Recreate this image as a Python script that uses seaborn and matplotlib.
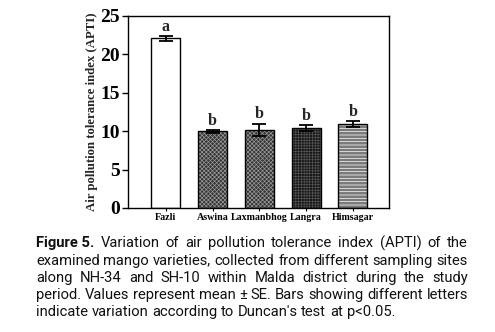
import math
import matplotlib
matplotlib.use("Agg")
import matplotlib.pyplot as plt
from matplotlib.font_manager import FontProperties
from matplotlib.backends.backend_agg import get_hinting_flag
import seaborn as sns
import pandas as pd
import numpy as np

varieties = ["Fazli", "Aswina", "Laxmanbhog", "Langra", "Himsagar"]
apti = [22.1, 10.0, 10.2, 10.4, 10.9]
se = [0.3, 0.2, 0.8, 0.4, 0.4]
letters = ["a", "b", "b", "b", "b"]

caption_lines = [
    ("Figure 5.", "Variation of air pollution tolerance index (APTI) of the"),
    ("", "examined mango varieties, collected from different sampling sites"),
    ("", "along NH-34 and SH-10 within Malda district during the study"),
    ("", "period. Values represent mean \u00b1 SE.  Bars showing different letters"),
    ("", "indicate variation according to Duncan's test at p<0.05."),
]

sns.set_theme(style="white")
plt.rcParams["hatch.linewidth"] = 0.5

df = pd.DataFrame({"variety": varieties, "apti": apti})

fig = plt.figure(figsize=(4.95, 3.32), dpi=100)
ax = fig.add_axes([128/495, 1-208/332, (389-128)/495, (208-16)/332])

sns.barplot(data=df, x="variety", y="apti", ax=ax, width=0.62,
            color="white", edgecolor="black", linewidth=1.0, errorbar=None)

faces = ["white", "#333333", "#333333", "#151515", "#7a7a7a"]
hatches = [None, "xxxxxxxx", "xxxxxxxx", "++++++", "-----"]
hcolors = ["black", "#999999", "#999999", "#555555", "white"]
for p, fc, h, hc in zip(ax.patches, faces, hatches, hcolors):
    p.set_facecolor(fc)
    if h:
        p.set_hatch(h)
        p._hatch_color = matplotlib.colors.to_rgba(hc)

xs = np.arange(len(varieties))
ax.errorbar(xs, apti, yerr=se, fmt="none", ecolor="black", elinewidth=1.3,
            capsize=5, capthick=1.3)
for x, v, e, l in zip(xs, apti, se, letters):
    ax.text(x, v + e + 0.15, l, ha="center", va="bottom",
            family="Liberation Serif", fontweight="bold", fontsize=11.5)

ax.set_xlim(-0.81, 4.77)
ax.set_ylim(0, 25)
ax.set_yticks([0, 5, 10, 15, 20, 25])
ax.set_xlabel("")
ax.set_ylabel("Air pollution tolerance index (APTI)", family="Liberation Serif",
              fontweight="bold", fontsize=9.2, labelpad=1.5)
for lab in ax.get_yticklabels():
    lab.set_family("Liberation Serif"); lab.set_fontweight("bold"); lab.set_fontsize(14)
for lab in ax.get_xticklabels():
    lab.set_family("Liberation Serif"); lab.set_fontweight("bold"); lab.set_fontsize(7.2)
ax.tick_params(axis="y", left=True, length=4, width=1, pad=2, colors="black")
ax.tick_params(axis="x", bottom=True, length=2.5, width=0.8, pad=1, colors="black")
for s in ax.spines.values():
    s.set_visible(True); s.set_color("black"); s.set_linewidth(1.0)

# caption: one text per word, justified, with pixel-consistent baselines
fig.canvas.draw()
renderer = fig.canvas.get_renderer()
Wpx, Hpx = fig.bbox.width, fig.bbox.height
x0, x1 = 36, 468
ys = [247, 265, 282, 299, 316]
fs = 10.6


def baseline_fix(word, weight):
    """Offset so that Agg's pixel rounding puts every word on the same row."""
    prop = FontProperties(family="Roboto", size=fs, weight=weight)
    try:
        font = renderer._prepare_font(prop)
        font.set_text(word, 0, flags=get_hinting_flag())
        d = font.get_descent() / 64.0
        h = font.get_width_height()[1] / 64.0
        ymax = h - d
        a = math.floor(ymax + 1e-9) - math.floor(h + 1e-9)
        return -a - d
    except Exception:
        return 0.0


for i, ((bold, rest), yy) in enumerate(zip(caption_lines, ys)):
    words = []
    if bold:
        words.append((bold, "bold"))
    for w in rest.split():
        words.append((w, "normal"))
    texts = []
    for w, fw in words:
        ypx = yy + baseline_fix(w, fw)
        t = fig.text(0, 1 - ypx / Hpx, w, fontsize=fs, family="Roboto",
                     fontweight=fw, va="baseline", ha="left", color="#111111")
        texts.append(t)
    widths = [t.get_window_extent(renderer).width for t in texts]
    if i < len(caption_lines) - 1:
        gap = (x1 - x0 - sum(widths)) / (len(texts) - 1)
    else:
        sp = fig.text(0, 0, "a a", fontsize=fs, family="Roboto")
        sp2 = fig.text(0, 0, "aa", fontsize=fs, family="Roboto")
        gap = sp.get_window_extent(renderer).width - sp2.get_window_extent(renderer).width
        sp.remove(); sp2.remove()
    x = x0
    for t, w in zip(texts, widths):
        t.set_x(x / Wpx)
        x += w + gap

fig.savefig("out.png", dpi=100)
